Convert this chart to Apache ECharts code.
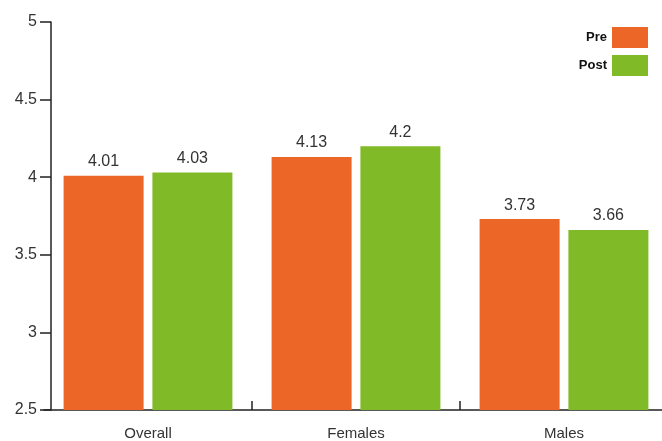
<!DOCTYPE html>
<html>
<head>
<meta charset="utf-8">
<script src="https://cdn.jsdelivr.net/npm/echarts@6/dist/echarts.min.js"></script>
<style>
  html, body { margin: 0; padding: 0; background: #fff; }
  #chart { width: 662px; height: 441px; }
</style>
</head>
<body>
<div id="chart"></div>
<script>
// Mean scores before and after, by group
const categories = ['Overall', 'Females', 'Males'];
const preValues = [4.01, 4.13, 3.73];
const postValues = [4.03, 4.2, 3.66];
const yTicks = [2.5, 3, 3.5, 4, 4.5, 5];

const ORANGE = '#EC6627';
const GREEN = '#80BA27';
const FONT = '"Liberation Sans", Arial, sans-serif';

const chart = echarts.init(document.getElementById('chart'));

const labelStyle = {
  show: true,
  position: 'top',
  distance: 6,
  color: '#333',
  fontFamily: FONT,
  fontSize: 16
};

chart.setOption({
  animation: false,
  textStyle: { fontFamily: FONT },
  grid: { left: 44, top: 22, width: 624, height: 388, outerBoundsMode: 'none' },
  legend: {
    right: 9,
    top: 22,
    orient: 'vertical',
    align: 'right',
    itemWidth: 36,
    itemHeight: 21,
    itemGap: 7,
    icon: 'rect',
    textStyle: { fontFamily: FONT, fontWeight: 'bold', fontSize: 13, color: '#111' },
    data: ['Pre', 'Post']
  },
  xAxis: {
    type: 'category',
    data: categories,
    axisLine: { lineStyle: { color: '#222', width: 1.5 } },
    axisTick: {
      show: true,
      inside: true,
      length: 9,
      // no divider tick at the far left, where the value axis stands
      interval: function (index) { return index !== 0; },
      lineStyle: { color: '#222', width: 1.5 }
    },
    axisLabel: { color: '#333', fontSize: 15, margin: 16, fontFamily: FONT }
  },
  yAxis: {
    type: 'value',
    min: yTicks[0],
    max: yTicks[yTicks.length - 1],
    interval: 0.5,
    offset: -7,
    splitLine: { show: false },
    axisLine: { show: true, lineStyle: { color: '#222', width: 1.5 } },
    axisTick: { show: true, length: 11, lineStyle: { color: '#222', width: 1.5 } },
    axisLabel: { color: '#333', fontSize: 16, margin: 14, fontFamily: FONT }
  },
  series: [
    {
      name: 'Pre',
      type: 'bar',
      data: preValues,
      barWidth: 80,
      barGap: '11%',
      itemStyle: { color: ORANGE },
      label: labelStyle
    },
    {
      name: 'Post',
      type: 'bar',
      data: postValues,
      barWidth: 80,
      itemStyle: { color: GREEN },
      label: labelStyle
    }
  ]
});
</script>
</body>
</html>
